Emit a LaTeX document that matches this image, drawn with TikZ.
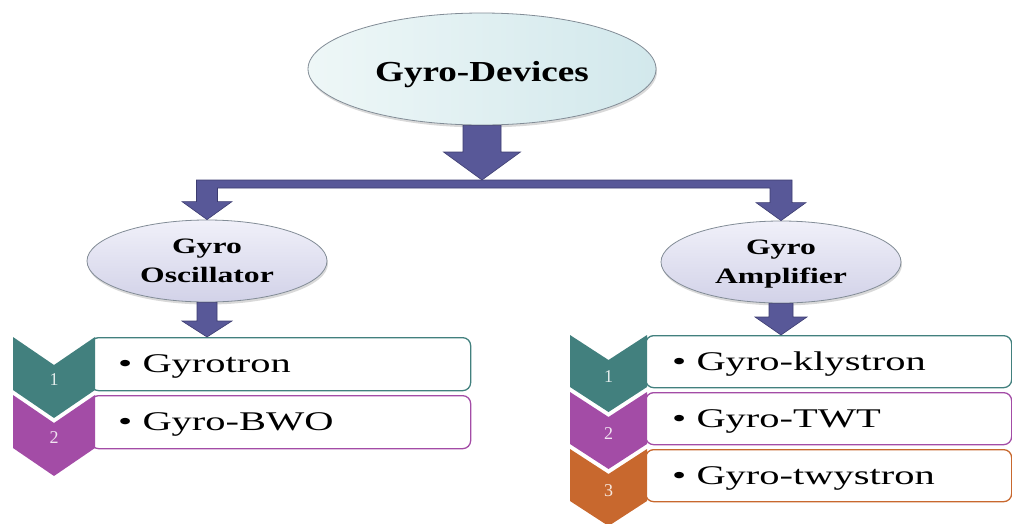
\documentclass[tikz,border=0pt]{standalone}
\usepackage{fontspec}
\setmainfont{Liberation Serif}
\usepackage{graphicx}
\usetikzlibrary{shapes.geometric,shadows,calc}

\definecolor{arrowfill}{RGB}{88,88,152}
\definecolor{arrowline}{RGB}{60,60,112}
\definecolor{tealc}{RGB}{66,128,126}
\definecolor{purplec}{RGB}{163,76,166}
\definecolor{orangec}{RGB}{200,104,46}
\definecolor{aquaL}{RGB}{238,247,247}
\definecolor{aquaR}{RGB}{210,232,236}
\definecolor{lavL}{RGB}{240,240,249}
\definecolor{lavR}{RGB}{210,210,232}
\definecolor{rimgrey}{RGB}{130,140,150}

% horizontally widened text
\newcommand\wide[2]{\scalebox{#1}[1]{#2}}
% two-line bold caption for the second-level ovals
\newcommand\subcaption[2]{\scalebox{1.44}[1]{\fontsize{22}{29}\selectfont\bfseries
  \begin{tabular}{@{}c@{}}#1\\#2\end{tabular}}}
% downward block arrow: from #1 to tip #2, shaft half width #3, head half width #4, head length #5
\newcommand\downblock[5]{%
  \path[blockarrow] let \p1=(#1), \p2=(#2) in
    (\x2-#3,\y1) -- (\x2+#3,\y1) -- (\x2+#3,\y2+#5) -- (\x2+#4,\y2+#5)
    -- (\x2,\y2) -- (\x2-#4,\y2+#5) -- (\x2-#3,\y2+#5) -- cycle;}
% chevron: colour, left x, right x, top y, side height, notch depth
\newcommand\chevronshape[6]{%
  \fill[#1] (#2,#4) -- ({(#2+#3)/2},{#4+#6}) -- (#3,#4) -- (#3,{#4+#5})
    -- ({(#2+#3)/2},{#4+#5+#6}) -- (#2,{#4+#5}) -- cycle;}

\tikzset{
  blockarrow/.style={fill=arrowfill, draw=arrowline, line width=0.6pt, line join=miter},
  ovalshadow/.style={drop shadow={shadow xshift=1pt, shadow yshift=-2.5pt, opacity=0.3}},
  headoval/.style={ellipse, draw=rimgrey, line width=0.8pt, shading=axis,
    left color=aquaL, right color=aquaR, ovalshadow, inner sep=0pt},
  suboval/.style={ellipse, draw=rimgrey, line width=0.8pt, shading=axis,
    top color=lavL, bottom color=lavR, ovalshadow, inner sep=0pt,
    minimum width=240pt, minimum height=82pt, text height=35pt, text depth=22pt},
  listbox/.style={draw=#1, line width=1.3pt, rounded corners=8pt, fill=white,
    anchor=north west, inner sep=0pt},
  itemtext/.style={anchor=west, inner sep=0pt, font=\fontsize{27}{32}\selectfont},
  numtext/.style={text=white, text opacity=0.85, inner sep=0pt,
    font=\fontsize{18}{20}\selectfont},
}

\begin{document}
\begin{tikzpicture}[x=1pt, y=-1pt]
\useasboundingbox (0,0) rectangle (1012,523);

% ovals
\node[headoval, minimum width=348pt, minimum height=112pt,
      text height=24pt, text depth=0pt] (top) at (482,69)
  {\wide{1.28}{\fontsize{29}{34}\selectfont\bfseries Gyro-Devices}};
\node[suboval] (osc) at (207,261) {\subcaption{Gyro}{Oscillator}};
\node[suboval] (amp) at (781,262) {\subcaption{Gyro}{Amplifier}};

% left list boxes
\node[listbox=tealc,   minimum width=380pt, minimum height=53pt] (l1) at (90,337) {};
\node[listbox=purplec, minimum width=380pt, minimum height=53pt] (l2) at (90,395) {};
% right list boxes
\node[listbox=tealc,   minimum width=366pt, minimum height=52pt] (r1) at (645,335) {};
\node[listbox=purplec, minimum width=366pt, minimum height=52pt] (r2) at (645,392) {};
\node[listbox=orangec, minimum width=366pt, minimum height=52pt] (r3) at (645,449) {};

% list entries
\node[itemtext] (t1) at ([xshift=28pt,yshift=-2.5pt]l1.west) {\wide{1.5}{\textbullet\ Gyrotron}};
\node[itemtext] (t2) at ([xshift=28pt,yshift=-2.5pt]l2.west) {\wide{1.5}{\textbullet\ Gyro-BWO}};
\node[itemtext] (t3) at ([xshift=27pt,yshift=-2.5pt]r1.west) {\wide{1.5}{\textbullet\ Gyro-klystron}};
\node[itemtext] (t4) at ([xshift=27pt,yshift=-2.5pt]r2.west) {\wide{1.5}{\textbullet\ Gyro-TWT}};
\node[itemtext] (t5) at ([xshift=27pt,yshift=-2.5pt]r3.west) {\wide{1.5}{\textbullet\ Gyro-twystron}};

% numbered chevrons
\chevronshape{tealc}{13}{95}{337}{53}{28}
\chevronshape{purplec}{13}{95}{395}{53}{28}
\node[numtext] (n1) at (54,380) {1};
\node[numtext] (n2) at (54,438) {2};

\chevronshape{tealc}{570}{647}{335}{52}{25}
\chevronshape{purplec}{570}{647}{392}{52}{25}
\chevronshape{orangec}{570}{647}{449}{52}{25}
\node[numtext] (m1) at (608.5,376.5) {1};
\node[numtext] (m2) at (608.5,433.5) {2};
\node[numtext] (m3) at (608.5,490.5) {3};

% connectors
\coordinate (bar) at (482,180);
\downblock{top.south}{bar}{19pt}{38.5pt}{28pt}
\path[blockarrow] let \p1=(osc.north), \p2=(amp.north), \p3=(bar) in
  (\x1-10.5pt,\y3) -- (\x2+11pt,\y3) -- (\x2+11pt,\y2+18pt) -- (\x2+25pt,\y2+18pt)
  -- (\x2,\y2) -- (\x2-25pt,\y2+18pt) -- (\x2-11pt,\y2+18pt) -- (\x2-11pt,\y3-8pt)
  -- (\x1+10.5pt,\y3-8pt) -- (\x1+10.5pt,\y1+18pt) -- (\x1+25pt,\y1+18pt)
  -- (\x1,\y1) -- (\x1-25pt,\y1+18pt) -- (\x1-10.5pt,\y1+18pt) -- cycle;

\coordinate (oscTip) at (osc.south |- l1.north);
\downblock{osc.south}{oscTip}{10pt}{25pt}{16pt}
\coordinate (ampTip) at (amp.south |- r1.north);
\downblock{amp.south}{ampTip}{12pt}{26pt}{18pt}
\end{tikzpicture}
\end{document}
